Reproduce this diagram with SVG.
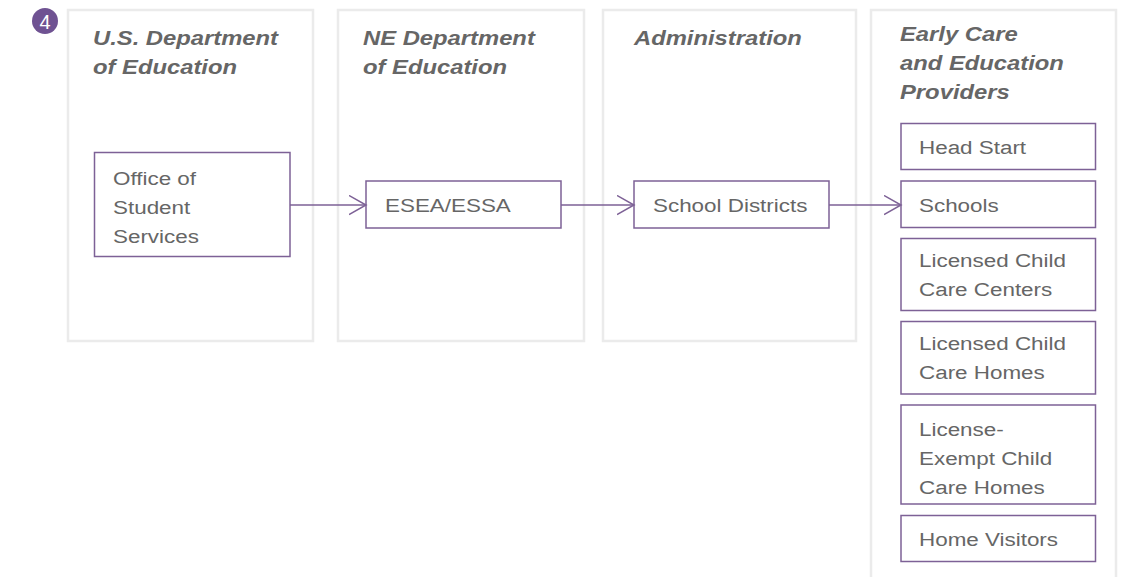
<svg xmlns="http://www.w3.org/2000/svg" width="1127" height="577" viewBox="0 0 1127 577">
<defs>
<style>
.panel{fill:#ffffff;stroke:#ebebeb;stroke-width:2.5}
.box{fill:#ffffff;stroke:#7d6196;stroke-width:1.5}
.title{font-family:"Liberation Sans",Arial,sans-serif;font-size:20px;font-weight:bold;font-style:italic;fill:#666666}
.lbl{font-family:"Liberation Sans",Arial,sans-serif;font-size:19px;fill:#666666}
.conn{stroke:#7d6196;stroke-width:1.5;fill:none}
</style>
<marker id="chev" markerUnits="userSpaceOnUse" markerWidth="20" markerHeight="22" refX="17.5" refY="10" orient="auto" viewBox="0 0 20 22">
<path d="M0.5,0.5 L17.5,10 L0.5,19.5" fill="none" stroke="#7d6196" stroke-width="1.5"/>
</marker>
</defs>
<rect x="0" y="0" width="1127" height="577" fill="#ffffff"/>

<g id="badge">
<circle cx="45" cy="21" r="13" fill="#6f5292"/>
<text x="45" y="28.5" text-anchor="middle" font-family="'Liberation Sans',Arial,sans-serif" font-size="20" fill="#ffffff">4</text>
</g>

<g id="panel-us-dept">
<rect class="panel" x="68" y="10" width="245" height="331"/>
<text class="title" transform="translate(93,45) scale(1.19,1)"><tspan x="0" y="0">U.S. Department</tspan><tspan x="0" y="29">of Education</tspan></text>
</g>
<g id="panel-ne-dept">
<rect class="panel" x="338" y="10" width="246" height="331"/>
<text class="title" transform="translate(363,45) scale(1.19,1)"><tspan x="0" y="0">NE Department</tspan><tspan x="0" y="29">of Education</tspan></text>
</g>
<g id="panel-admin">
<rect class="panel" x="603" y="10" width="253" height="331"/>
<text class="title" transform="translate(634,45) scale(1.19,1)"><tspan x="0" y="0">Administration</tspan></text>
</g>
<g id="panel-providers">
<rect class="panel" x="871" y="10" width="245" height="580"/>
<text class="title" transform="translate(900,41) scale(1.19,1)"><tspan x="0" y="0">Early Care</tspan><tspan x="0" y="29">and Education</tspan><tspan x="0" y="58">Providers</tspan></text>
</g>

<g id="node-office">
<rect class="box" x="94.5" y="152.5" width="195.5" height="104"/>
<text class="lbl" transform="translate(113,185) scale(1.18,1)"><tspan x="0" y="0">Office of</tspan><tspan x="0" y="29">Student</tspan><tspan x="0" y="58">Services</tspan></text>
</g>
<g id="node-esea">
<rect class="box" x="366" y="181" width="195" height="47"/>
<text class="lbl" transform="translate(385,211.5) scale(1.18,1)">ESEA/ESSA</text>
</g>
<g id="node-districts">
<rect class="box" x="634" y="181" width="195" height="47"/>
<text class="lbl" transform="translate(653,211.5) scale(1.18,1)">School Districts</text>
</g>
<g id="node-headstart">
<rect class="box" x="901" y="123.5" width="194.5" height="46"/>
<text class="lbl" transform="translate(919,153.5) scale(1.18,1)">Head Start</text>
</g>
<g id="node-schools">
<rect class="box" x="901" y="181" width="194.5" height="46.5"/>
<text class="lbl" transform="translate(919,211.5) scale(1.18,1)">Schools</text>
</g>
<g id="node-lccc">
<rect class="box" x="901" y="238.5" width="194.5" height="72"/>
<text class="lbl" transform="translate(919,267) scale(1.18,1)"><tspan x="0" y="0">Licensed Child</tspan><tspan x="0" y="29">Care Centers</tspan></text>
</g>
<g id="node-lcch">
<rect class="box" x="901" y="321.5" width="194.5" height="72.5"/>
<text class="lbl" transform="translate(919,350) scale(1.18,1)"><tspan x="0" y="0">Licensed Child</tspan><tspan x="0" y="29">Care Homes</tspan></text>
</g>
<g id="node-lecch">
<rect class="box" x="901" y="405" width="194.5" height="99"/>
<text class="lbl" transform="translate(919,436) scale(1.18,1)"><tspan x="0" y="0">License-</tspan><tspan x="0" y="29">Exempt Child</tspan><tspan x="0" y="58">Care Homes</tspan></text>
</g>
<g id="node-homevisitors">
<rect class="box" x="901" y="515.5" width="194.5" height="46"/>
<text class="lbl" transform="translate(919,545.5) scale(1.18,1)">Home Visitors</text>
</g>

<g id="connectors">
<line class="conn" x1="290" y1="205" x2="366" y2="205" marker-end="url(#chev)"/>
<line class="conn" x1="561" y1="205" x2="634" y2="205" marker-end="url(#chev)"/>
<line class="conn" x1="829" y1="205" x2="901" y2="205" marker-end="url(#chev)"/>
</g>
</svg>
